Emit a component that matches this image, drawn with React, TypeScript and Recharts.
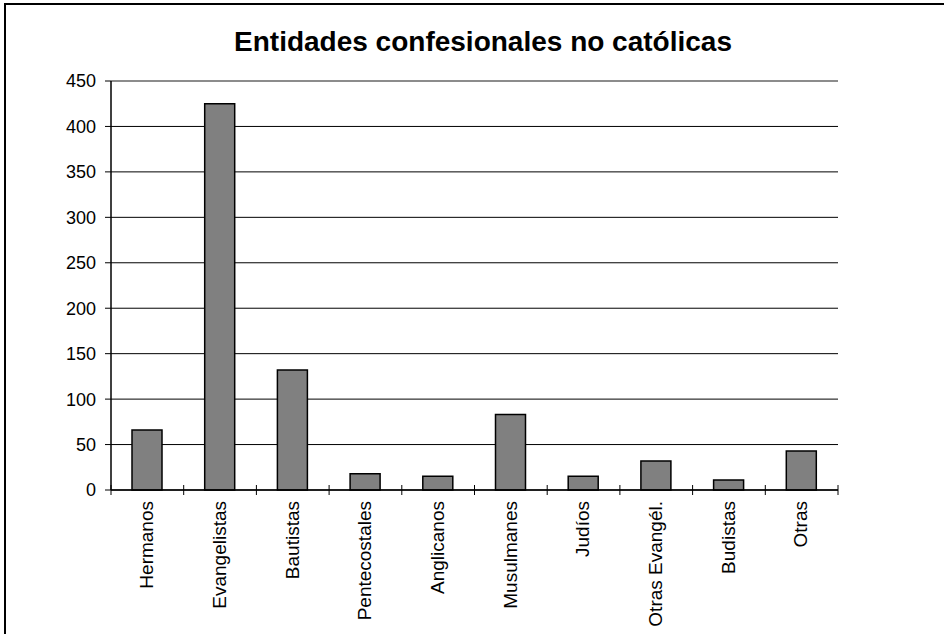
import React from 'react';
import { BarChart, Bar, XAxis, YAxis, CartesianGrid, ReferenceLine } from 'recharts';

const categories = ['Hermanos', 'Evangelistas', 'Bautistas', 'Pentecostales', 'Anglicanos', 'Musulmanes', 'Judíos', 'Otras Evangél.', 'Budistas', 'Otras'];
const values = [66, 425, 132, 18, 15, 83, 15, 32, 11, 43];
const yTicks = [0, 50, 100, 150, 200, 250, 300, 350, 400, 450];
const title = 'Entidades confesionales no católicas';

const data = categories.map((name, i) => ({ name, value: values[i] }));
const FONT = '"Liberation Sans", Arial, Helvetica, sans-serif';

const CategoryTick = (props: any) => {
  const { x, y, payload, index } = props;
  const half = payload && typeof payload.offset === 'number' ? payload.offset : 0;
  const last = index === categories.length - 1;
  return (
    <g>
      <line x1={x - half} x2={x - half} y1={y - 5} y2={y + 5} stroke="#000" strokeWidth={1} />
      {last && <line x1={x + half} x2={x + half} y1={y - 5} y2={y + 5} stroke="#000" strokeWidth={1} />}
      <text
        transform={`translate(${x - 1},${y + 11}) rotate(-90)`}
        textAnchor="end"
        dy="0.36em"
        fontSize={19}
        fontFamily={FONT}
        fill="#000"
      >
        {payload.value}
      </text>
    </g>
  );
};

export default function App() {
  return (
    <div style={{ position: 'absolute', left: 0, top: 0, width: 944, height: 634, overflow: 'hidden', background: '#fff' }}>
      <div
        style={{
          position: 'absolute',
          left: 4,
          top: 3,
          width: 1000,
          height: 1000,
          borderTop: '2px solid #000',
          borderLeft: '2px solid #000',
        }}
      />
      <div
        style={{
          position: 'absolute',
          left: 11,
          top: 28,
          width: 944,
          textAlign: 'center',
          fontFamily: FONT,
          fontWeight: 'bold',
          fontSize: 28,
          lineHeight: '28px',
          color: '#000',
          whiteSpace: 'nowrap',
        }}
      >
        {title}
      </div>
      <div style={{ position: 'absolute', left: 0, top: 0 }}>
        <BarChart width={944} height={634} data={data} margin={{ top: 81, right: 106, bottom: 0, left: 0 }}>
          <CartesianGrid vertical={false} stroke="#000" strokeWidth={1} />
          <XAxis
            dataKey="name"
            type="category"
            interval={0}
            height={144}
            tickLine={false}
            tickSize={0}
            tickMargin={0}
            axisLine={{ stroke: '#000', strokeWidth: 1.5 }}
            tick={<CategoryTick />}
          />
          <YAxis
            domain={[0, 450]}
            ticks={yTicks}
            interval={0}
            width={111}
            tickSize={6}
            tickMargin={9}
            axisLine={{ stroke: '#000', strokeWidth: 1.5 }}
            tickLine={{ stroke: '#000', strokeWidth: 1 }}
            tick={{ fill: '#000', fontSize: 18, fontFamily: FONT }}
          />
          <YAxis
            yAxisId="r"
            orientation="right"
            domain={[0, 450]}
            width={0}
            tick={false}
            tickLine={false}
            axisLine={{ stroke: '#8c8c8c', strokeWidth: 2 }}
          />
          <ReferenceLine y={450} stroke="#8c8c8c" strokeWidth={2} />
          <Bar dataKey="value" fill="#808080" stroke="#000" strokeWidth={1.5} barSize={30} isAnimationActive={false} />
        </BarChart>
      </div>
    </div>
  );
}
